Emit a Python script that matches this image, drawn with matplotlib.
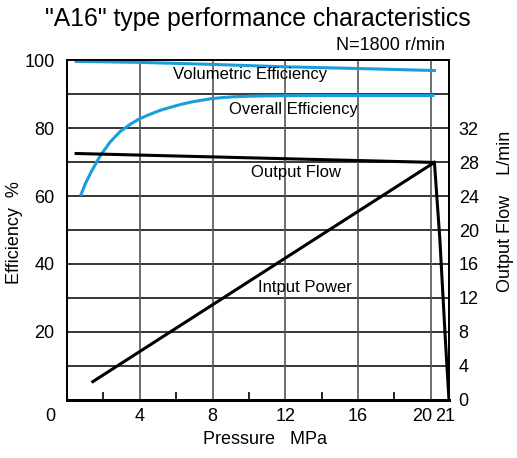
import matplotlib
matplotlib.use("Agg")
import matplotlib.pyplot as plt
import matplotlib.transforms as mtransforms

plt.rcParams['font.family'] = ['Liberation Sans', 'DejaVu Sans']

# ---- data ----
vol_p = [0.5, 4, 8, 12, 16, 20.2]
vol_eff = [99.6, 99.3, 98.7, 98.0, 97.5, 96.9]

ovr_p = [0.74, 1.0, 1.34, 1.8, 2.36, 2.91, 3.45, 3.98, 4.55, 5.12, 5.7, 6.23, 6.8, 7.33, 7.9,
         8.44, 9.2, 10, 11, 12, 14, 16, 18, 20.2]
ovr_eff = [60.0, 63.5, 67.2, 71.6, 75.8, 78.9, 81.0, 82.7, 84.0, 85.2, 86.1, 86.9, 87.6, 88.1, 88.6,
           88.9, 89.2, 89.35, 89.45, 89.5, 89.55, 89.55, 89.55, 89.55]

flow_p = [0.5, 20.2, 20.5, 20.8, 21]
flow_lpm = [29.0, 27.95, 18.8, 7.1, 0]

pow_p = [1.42, 20.2]
pow_val = [5.4, 69.9]

x_ticks = [0, 4, 8, 12, 16, 20, 21]
x_minor = [2, 6, 10, 14, 18]
y_ticks = [20, 40, 60, 80, 100]
y_grid = [10, 20, 30, 40, 50, 60, 70, 80, 90]
flow_ticks = [0, 4, 8, 12, 16, 20, 24, 28, 32]

BLUE = '#1b9ddb'

W, H = 517, 458
fig = plt.figure(figsize=(W / 100, H / 100), dpi=100)
ax = fig.add_axes([67 / W, (H - 400) / H, (449 - 67) / W, (400 - 60) / H])
ax.set_xlim(0, 21)
ax.set_ylim(0, 100)

for yv in y_grid:
    ax.axhline(yv, color='black', lw=1.1, zorder=1)
for xv in x_ticks[1:-1]:
    ax.axvline(xv, color='#555555', lw=1.2, zorder=1)

ax.plot(vol_p, vol_eff, color=BLUE, lw=2.2, zorder=3)
ax.plot(ovr_p, ovr_eff, color=BLUE, lw=2.2, zorder=3, solid_capstyle='butt')
ax.plot(pow_p, pow_val, color='black', lw=2.2, zorder=3)

ax2 = ax.twinx()
ax2.set_ylim(0, 40)
ax2.plot(flow_p, flow_lpm, color='black', lw=2.2, zorder=3)
ax2.set_yticks(flow_ticks)
ax2.set_yticklabels([str(v) for v in flow_ticks], fontsize=13)
ax2.tick_params(axis='y', length=0, pad=7)

ax.set_yticks(y_ticks)
ax.set_yticklabels([str(v) for v in y_ticks], fontsize=13)
ax.tick_params(axis='y', length=0, pad=9)

ax.set_xticks(x_ticks)
ax.set_xticklabels([str(v) for v in x_ticks], fontsize=13)
ax.tick_params(axis='x', which='major', length=0, pad=6)
ax.set_xticks(x_minor, minor=True)
ax.tick_params(axis='x', which='minor', direction='in', length=6, width=1.2, color='black')

offsets = {0: -17, 20: -9, 21: -4}
for t, lab in zip(ax.get_xticks(), ax.get_xticklabels()):
    if int(t) in offsets:
        off = mtransforms.ScaledTranslation(offsets[int(t)] / 100, 0, fig.dpi_scale_trans)
        lab.set_transform(lab.get_transform() + off)

for sp in ['left', 'right', 'top']:
    ax.spines[sp].set_linewidth(1.3)
    ax2.spines[sp].set_linewidth(1.3)
ax.spines['bottom'].set_linewidth(2.0)
ax2.spines['bottom'].set_linewidth(2.0)

ax.text(5.83, 95.6, 'Volumetric Efficiency', fontsize=12, va='center', ha='left', zorder=4)
ax.text(8.93, 85.3, 'Overall Efficiency', fontsize=12, va='center', ha='left', zorder=4)
ax.text(10.1, 67.0, 'Output Flow', fontsize=12, va='center', ha='left', zorder=4)
ax.text(10.5, 33.2, 'Intput Power', fontsize=12, va='center', ha='left', zorder=4)

fig.text(258 / W, 1 - 19 / H, '"A16" type performance characteristics', fontsize=17.8,
         ha='center', va='center')
fig.text(445 / W, 1 - 46 / H, 'N=1800 r/min', fontsize=13, ha='right', va='center')
fig.text(265 / W, 1 - 440 / H, 'Pressure   MPa', fontsize=13, ha='center', va='center')
fig.text(15 / W, 1 - 233 / H, 'Efficiency  %', fontsize=13, ha='center', va='center', rotation=90)
fig.text(505 / W, 1 - 211 / H, 'Output Flow    L/min', fontsize=13, ha='center', va='center',
         rotation=90)

fig.savefig('out.png', dpi=100)
